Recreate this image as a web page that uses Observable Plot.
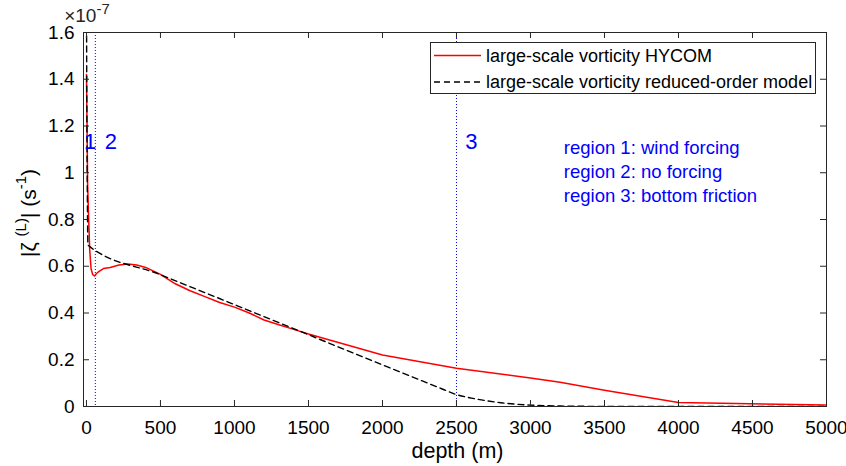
<!DOCTYPE html>
<html><head><meta charset="utf-8">
<script src="https://cdn.jsdelivr.net/npm/d3@7"></script>
<script src="https://cdn.jsdelivr.net/npm/@observablehq/plot@0.6"></script>
<style>
body{margin:0;background:#fff;}
#wrap{position:relative;width:846px;height:466px;font-family:"Liberation Sans",Arial,sans-serif;overflow:hidden;}
#wrap svg{overflow:visible;}
#legend{position:absolute;left:430px;top:42px;}
</style></head><body><div id="wrap"></div>
<script>
// ---- data (vorticity in units of 1e-7 s^-1) ----
const hycomDepth = [0, 4, 8, 14, 22, 31, 42, 54, 70, 85, 115, 160, 220, 280, 340, 400, 500, 600, 700, 800, 900, 1000, 1100, 1200, 1300, 1400, 1500, 1750, 2000, 2500, 3000, 3200, 3500, 4000, 5000];
const hycomVort  = [1.42, 1.2, 0.95, 0.82, 0.67, 0.59, 0.565, 0.558, 0.57, 0.578, 0.59, 0.595, 0.605, 0.61, 0.605, 0.595, 0.565, 0.525, 0.495, 0.47, 0.445, 0.425, 0.40, 0.37, 0.35, 0.33, 0.31, 0.265, 0.22, 0.164, 0.122, 0.104, 0.07, 0.017, 0.006];
const romDepth = [0, 3, 6, 10, 500, 1000, 1500, 2000, 2200, 2400, 2500, 2600, 2700, 2800, 2900, 3000, 3200, 3500, 5000];
const romVort  = [1.8, 1.2, 0.9, 0.69, 0.564, 0.436, 0.307, 0.178, 0.127, 0.076, 0.051, 0.036, 0.025, 0.016, 0.01, 0.006, 0.002, 0.0005, 0];
const regionBounds = [60, 2500];
const regionNums = ["1", "2", "3"];
const regionNumX = [25, 165, 2600];
const regionNumY = [1.13, 1.13, 1.13];
const regionNotes = ["region 1: wind forcing", "region 2: no forcing", "region 3: bottom friction"];
const regionNoteX = [3225, 3225, 3225];
const regionNoteY = [1.104, 1.003, 0.902];
const xTicks = [0, 500, 1000, 1500, 2000, 2500, 3000, 3500, 4000, 4500, 5000];
const yTicks = [0, 0.2, 0.4, 0.6, 0.8, 1, 1.2, 1.4, 1.6];
const seriesNames = ["large-scale vorticity HYCOM", "large-scale vorticity reduced-order model"];
const xDomain = [-20, 5000];
const yDomain = [0, 1.6];

const hycom = hycomDepth.map((d, i) => ({depth: d, v: hycomVort[i]}));
const rom = romDepth.map((d, i) => ({depth: d, v: romVort[i]}));
const nums = regionNums.map((t, i) => ({t, x: regionNumX[i], y: regionNumY[i]}));
const notes = regionNotes.map((t, i) => ({t, x: regionNoteX[i], y: regionNoteY[i]}));

const W = 846, H = 466, mL = 83, mR = 20, mT = 32, mB = 60;
const tickLenX = 6 / ((W - mL - mR) / (xDomain[1] - xDomain[0]));
const tickLenY = 6 / ((H - mT - mB) / (yDomain[1] - yDomain[0]));
const axisColor = "#262626";
const blue = "#0000ff";

const chart = Plot.plot({
  width: W, height: H,
  marginLeft: mL, marginRight: mR, marginTop: mT, marginBottom: mB,
  style: {fontFamily: "'Liberation Sans', Arial, sans-serif", fontSize: "19px", color: "#000", background: "#fff"},
  x: {domain: xDomain},
  y: {domain: yDomain},
  marks: [
    Plot.ruleX(regionBounds, {x: d => d, stroke: blue, strokeWidth: 1, strokeDasharray: "1,2"}),
    Plot.line(hycom, {x: "depth", y: "v", stroke: "#ff0000", strokeWidth: 1.5, clip: true}),
    Plot.line(rom, {x: "depth", y: "v", stroke: "#000", strokeWidth: 1.4, strokeDasharray: "6,4", curve: "monotone-x", clip: true}),
    Plot.text(nums, {x: "x", y: "y", text: "t", fill: blue, fontSize: 22}),
    Plot.text(notes, {x: "x", y: "y", text: "t", fill: blue, fontSize: 18.5, textAnchor: "start"}),
    Plot.frame({stroke: axisColor, strokeWidth: 1}),
    Plot.ruleX(xTicks, {x: d => d, y1: yDomain[0], y2: yDomain[0] + tickLenY, stroke: axisColor}),
    Plot.ruleX(xTicks, {x: d => d, y1: yDomain[1], y2: yDomain[1] - tickLenY, stroke: axisColor}),
    Plot.ruleY(yTicks, {y: d => d, x1: xDomain[0], x2: xDomain[0] + tickLenX, stroke: axisColor}),
    Plot.ruleY(yTicks, {y: d => d, x1: xDomain[1], x2: xDomain[1] - tickLenX, stroke: axisColor}),
    Plot.axisX({ticks: xTicks, tickSize: 0, tickPadding: 14, tickFormat: d => String(d), label: null, fontSize: 19}),
    Plot.axisY({ticks: yTicks, tickSize: 0, tickPadding: 9, tickFormat: d => String(d), label: null, fontSize: 19})
  ]
});
document.getElementById("wrap").appendChild(chart);

const svg = d3.select(chart);
// x label
svg.append("text")
  .attr("x", mL + (W - mL - mR) / 2 + 3).attr("y", 458)
  .attr("text-anchor", "middle").attr("font-size", 21.5).attr("fill", "#000")
  .text("depth (m)");
// y label
const yl = svg.append("text")
  .attr("transform", `translate(36,213) rotate(-90)`)
  .attr("text-anchor", "middle").attr("font-size", 21).attr("fill", "#000");
yl.append("tspan").text("|\u03B6 ");
yl.append("tspan").attr("font-size", 15).attr("dy", -10).text("(L)");
yl.append("tspan").attr("dy", 10).text("| (s");
yl.append("tspan").attr("font-size", 15).attr("dy", -10).text("-1");
yl.append("tspan").attr("dy", 10).text(")");
// exponent
const ex = svg.append("text").attr("x", 87).attr("y", 22).attr("font-size", 19).attr("fill", "#262626");
ex.append("tspan").text("\u00D710");
ex.append("tspan").attr("font-size", 15).attr("dy", -8).text("-7");

// legend
const lg = d3.select("#wrap").append("svg").attr("id", "legend").attr("width", 387).attr("height", 53);
lg.append("rect").attr("x", 0.5).attr("y", 0.5).attr("width", 385).attr("height", 51)
  .attr("fill", "#fff").attr("stroke", axisColor).attr("stroke-width", 1);
const legStyles = [{stroke: "#ff0000", dash: null, w: 1.5}, {stroke: "#000", dash: "6,4", w: 1.4}];
seriesNames.forEach((name, i) => {
  const cy = 13.5 + i * 26.5;
  lg.append("line").attr("x1", 4).attr("x2", 51).attr("y1", cy).attr("y2", cy)
    .attr("stroke", legStyles[i].stroke).attr("stroke-width", legStyles[i].w)
    .attr("stroke-dasharray", legStyles[i].dash);
  lg.append("text").attr("x", 56).attr("y", cy).attr("dy", "0.35em")
    .attr("font-size", 18).attr("fill", "#000").text(name);
});
</script>
</body></html>
